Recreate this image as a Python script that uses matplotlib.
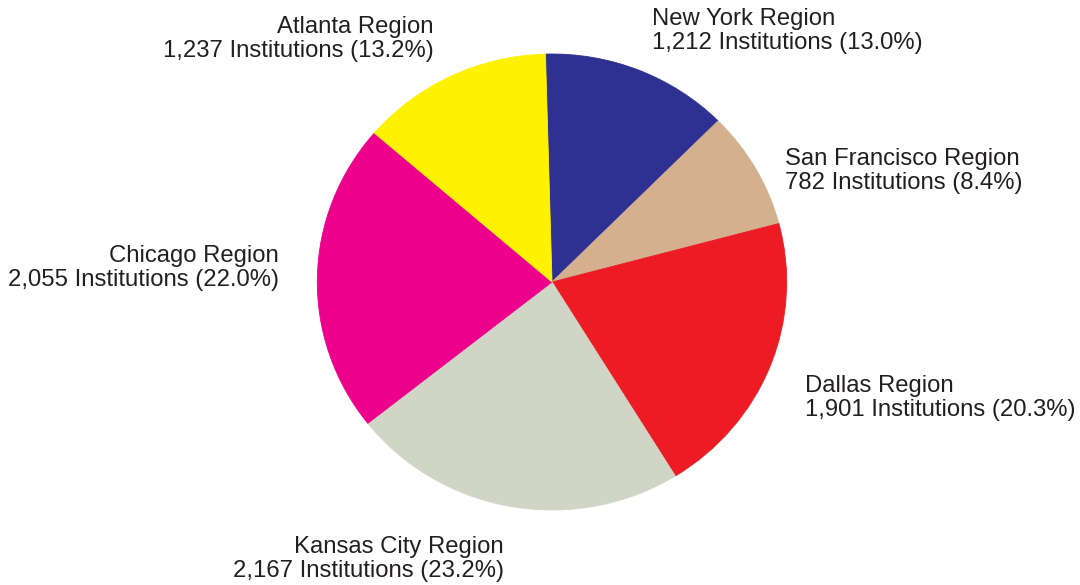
import matplotlib
matplotlib.use("Agg")
import matplotlib.pyplot as plt

plt.rcParams['font.family'] = ['Liberation Sans', 'DejaVu Sans']

regions = ["New York", "San Francisco", "Dallas", "Kansas City", "Chicago", "Atlanta"]
institutions = [1212, 782, 1901, 2167, 2055, 1237]
colors = ["#2E3192", "#D4B08E", "#ED1C24", "#D1D5C5", "#EC008C", "#FFF200"]

# label anchor (data units, pie radius = 1), alignment
label_x = [0.428, 0.991, 1.077, -0.206, -1.164, -0.504]
label_y = [1.129, 0.515, -0.482, -1.190, 0.086, 1.091]
label_ha = ["left", "left", "left", "right", "right", "right"]
line_step = 0.105

total = sum(institutions)

fig = plt.figure(figsize=(10.8, 5.85), dpi=100)
ax = fig.add_axes([317.3 / 1080, (585 - 510) / 585, 469.4 / 1080, 456 / 585])
wedges, _ = ax.pie(institutions, colors=colors, startangle=91.6, counterclock=False,
                   wedgeprops=dict(linewidth=0.6, antialiased=True))
for w, c in zip(wedges, colors):
    w.set_edgecolor(c)
ax.set_aspect('auto')
ax.set_xlim(-1, 1)
ax.set_ylim(-1, 1)
ax.axis('off')

txt_color = "#231F20"
fs = 17.2
for name, n, x, y, ha in zip(regions, institutions, label_x, label_y, label_ha):
    pct = 100 * n / total
    ax.text(x, y, f"{name} Region", ha=ha, va='baseline', fontsize=fs,
            color=txt_color, clip_on=False)
    ax.text(x, y - line_step, f"{n:,} Institutions ({pct:.1f}%)", ha=ha, va='baseline',
            fontsize=fs, color=txt_color, clip_on=False)

fig.savefig("out.png", dpi=100, facecolor="white")
